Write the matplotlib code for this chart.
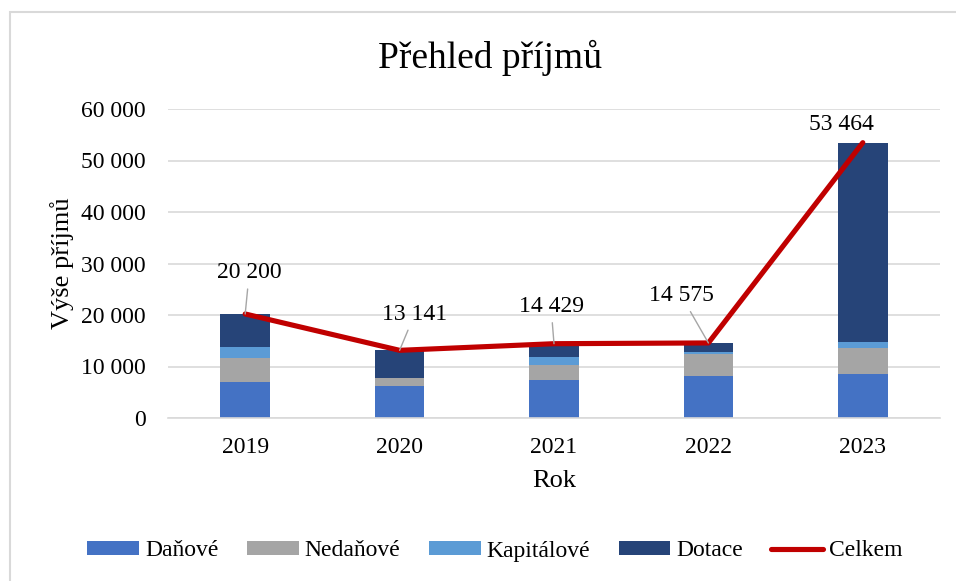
import matplotlib
matplotlib.use("Agg")
import matplotlib.pyplot as plt
from matplotlib.patches import Rectangle
from matplotlib.ticker import FuncFormatter
import numpy as np

years = ["2019", "2020", "2021", "2022", "2023"]
danove = [7000, 6250, 7400, 8150, 8550]
nedanove = [4600, 1550, 2800, 4300, 5000]
kapitalove = [2200, 50, 1550, 450, 1200]
celkem = [20200, 13141, 14429, 14575, 53464]
dotace = [c - a - b - k for c, a, b, k in zip(celkem, danove, nedanove, kapitalove)]
yticks = [0, 10000, 20000, 30000, 40000, 50000, 60000]

plt.rcParams['font.family'] = ['Liberation Serif', 'DejaVu Serif']

W, H = 956, 581
fig = plt.figure(figsize=(W / 100, H / 100), dpi=100)
ax = fig.add_axes([168 / W, 1 - 418 / H, (940 - 168) / W, (418 - 109) / H])

x = np.arange(len(years))
bw = 0.32
colors = ["#4472C4", "#A5A5A5", "#5B9BD5", "#264478"]
names = ["Daňové", "Nedaňové", "Kapitálové", "Dotace"]
series = [danove, nedanove, kapitalove, dotace]
bottom = np.zeros(len(years))
handles = []
for s, c, n in zip(series, colors, names):
    h = ax.bar(x, s, bw, bottom=bottom, color=c, label=n, zorder=2)
    handles.append(h)
    bottom += np.array(s)

ln, = ax.plot(x, celkem, color="#C00000", lw=3.7, solid_capstyle='round',
              solid_joinstyle='round', label="Celkem", zorder=3)
handles.append(ln)

offsets = [(4, 41), (15, 36), (-3, 37), (-27, 47), (-21, 18)]
for i, (v, off) in enumerate(zip(celkem, offsets)):
    lbl = format(v, ",").replace(",", " ")
    arrow = None if i == 4 else dict(arrowstyle='-', color='#A6A6A6', lw=1.0,
                                     shrinkA=2, shrinkB=0)
    ax.annotate(lbl, xy=(x[i], v), xytext=off, textcoords='offset pixels',
                ha='center', va='center', fontsize=17, color='#000000',
                arrowprops=arrow, zorder=4)

ax.set_xlim(-0.5, len(years) - 0.5)
ax.set_ylim(0, 60000)
ax.set_yticks(yticks)
ax.yaxis.set_major_formatter(FuncFormatter(lambda v, p: format(int(v), ",").replace(",", " ")))
ax.set_xticks(x)
ax.set_xticklabels(years)
ax.tick_params(axis='both', length=0, labelsize=17, colors='#000000')
ax.tick_params(axis='y', pad=16)
ax.tick_params(axis='x', pad=14)
ax.grid(axis='y', color='#D9D9D9', lw=1.2, zorder=0)
ax.set_axisbelow(True)
for sp in ['top', 'right', 'left']:
    ax.spines[sp].set_visible(False)
ax.spines['bottom'].set_color('#D9D9D9')
ax.spines['bottom'].set_linewidth(1.2)

ax.set_ylabel("Výše příjmů", fontsize=19)
ax.yaxis.set_label_coords((74 - 168) / 772, 0.5)
ax.set_xlabel("Rok", fontsize=19)
ax.xaxis.set_label_coords(0.5, (418 - 470) / 309)

fig.text(490 / W, 1 - 58 / H, "Přehled příjmů", ha='center', va='center', fontsize=27)

leg = ax.legend(handles=handles, labels=names + ["Celkem"], loc='center',
                bbox_to_anchor=(495 / W, 1 - 551 / H),
                bbox_transform=fig.transFigure, ncol=5, frameon=False,
                fontsize=17, handlelength=2.2, handleheight=0.5,
                handletextpad=0.25, columnspacing=1.2, borderaxespad=0)

fig.patches.append(Rectangle((9.5 / W, -0.05), 1.2, 1 - 12 / H + 0.05,
                             transform=fig.transFigure, fill=False,
                             edgecolor='#D9D9D9', lw=1.5))

fig.savefig("out.png", dpi=100)
